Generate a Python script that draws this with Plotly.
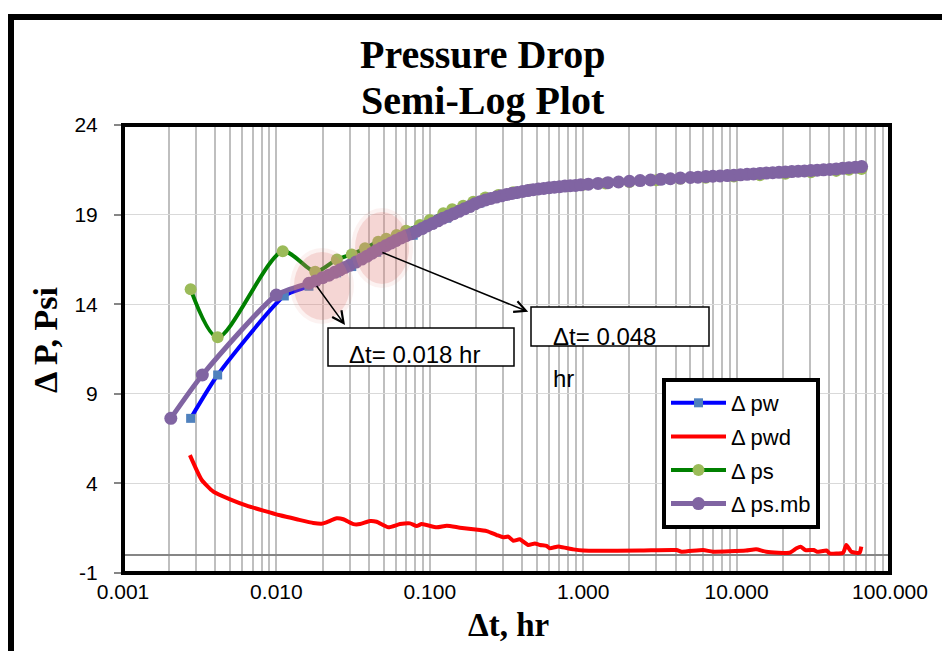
import math
import plotly.graph_objects as go

# ---- data -------------------------------------------------------------
# Δ pw : wellbore pressure drop
t_pw = [0.00276, 0.00414, 0.01126, 0.0163, 0.0247, 0.031, 0.0451, 0.078, 0.129,
        0.212, 0.35, 0.578, 1.0, 3.2, 10.0, 30.5, 65.3]
dp_pw = [7.63, 10.05, 14.46, 15.0, 15.75, 16.1, 16.9, 17.85, 18.8,
         19.65, 20.12, 20.42, 20.62, 20.92, 21.15, 21.4, 21.62]

# Δ pwd : pressure derivative
t_pwd = [0.00273, 0.00326, 0.00388, 0.00499, 0.0064, 0.00822, 0.01055, 0.01355,
         0.0174, 0.0197, 0.0212, 0.0247, 0.0273, 0.0318, 0.0351, 0.0407, 0.045,
         0.0537, 0.064, 0.0743, 0.0821, 0.0885, 0.111, 0.129, 0.157, 0.192,
         0.235, 0.273, 0.301, 0.325, 0.35, 0.386, 0.438, 0.484, 0.523, 0.577,
         0.606, 0.673, 0.705, 0.862, 1.0, 2.34, 4.06, 4.38, 6.05, 7.02, 11.5,
         13.4, 15.6, 22.2, 24.6, 26.1, 28.1, 31.8, 33.4, 38.8, 40.3, 49.4,
         51.9, 55.9, 63.4, 65.0]
dp_pwd = [5.58, 4.19, 3.54, 3.11, 2.76, 2.48, 2.22, 2.00,
          1.79, 1.75, 1.83, 2.05, 2.00, 1.73, 1.73, 1.90, 1.86,
          1.55, 1.73, 1.77, 1.62, 1.73, 1.55, 1.64, 1.53, 1.44,
          1.34, 1.12, 0.99, 1.03, 0.80, 0.88, 0.56, 0.65, 0.56, 0.51,
          0.38, 0.47, 0.47, 0.32, 0.25, 0.25, 0.28, 0.19, 0.28, 0.19, 0.25,
          0.32, 0.19, 0.13, 0.38, 0.47, 0.28, 0.28, 0.19, 0.25, 0.10, 0.13,
          0.56, 0.19, 0.13, 0.47]

# Δ ps : sandface pressure drop
t_ps = [0.00276, 0.00414, 0.011, 0.0179, 0.0248, 0.031, 0.0378, 0.0461, 0.052,
        0.0608, 0.07, 0.0863, 0.1, 0.1225, 0.14, 0.165, 0.192, 0.23, 0.28,
        0.35, 0.45, 0.6, 0.8, 1.0, 1.4, 2.0, 3.0, 4.3, 6.3, 9.6, 14.2, 20.8,
        30.5, 44.6, 54.0, 65.3]
dp_ps = [14.83, 12.15, 16.95, 15.81, 16.5, 16.78, 17.12, 17.49, 17.65,
         17.86, 18.1, 18.42, 18.7, 19.07, 19.3, 19.5, 19.72, 19.95, 20.1,
         20.25, 20.38, 20.5, 20.6, 20.66, 20.74, 20.82, 20.92, 21.0, 21.06,
         21.12, 21.2, 21.28, 21.36, 21.44, 21.5, 21.55]

# Δ ps.mb : sandface pressure drop, material-balance corrected
t_mb = [0.00205, 0.00329, 0.00999, 0.0163, 0.018, 0.020, 0.022, 0.024, 0.026,
        0.028, 0.030, 0.033, 0.036, 0.039, 0.042, 0.045, 0.048, 0.052, 0.056,
        0.060, 0.065, 0.070, 0.076, 0.082, 0.089, 0.096, 0.104, 0.113, 0.122,
        0.132, 0.143, 0.155, 0.168, 0.182, 0.197, 0.213, 0.231, 0.250, 0.271,
        0.293, 0.317, 0.343, 0.372, 0.403, 0.436, 0.472, 0.511, 0.553, 0.599,
        0.648, 0.702, 0.760, 0.823, 0.891, 0.965, 1.08, 1.25, 1.45, 1.70, 2.0,
        2.35, 2.75, 3.2, 3.7, 4.3, 5.0, 5.6, 6.3, 7.0, 7.8, 8.7, 9.6, 10.6,
        11.7, 12.9, 14.2, 15.6, 17.2, 18.9, 20.8, 22.9, 25.2, 27.7, 30.5,
        33.5, 36.9, 40.6, 44.6, 49.1, 54.0, 59.4, 65.3]
dp_mb = [7.63, 10.05, 14.51, 15.17, 15.30, 15.48, 15.62, 15.78, 15.92,
         16.05, 16.17, 16.35, 16.52, 16.68, 16.85, 17.00, 17.12, 17.28, 17.42,
         17.55, 17.70, 17.82, 17.93, 18.07, 18.22, 18.37, 18.50, 18.65, 18.80,
         18.92, 19.05, 19.18, 19.32, 19.45, 19.60, 19.72, 19.82, 19.90, 19.98,
         20.05, 20.12, 20.18, 20.24, 20.29, 20.34, 20.39, 20.43, 20.46, 20.50,
         20.53, 20.56, 20.59, 20.61, 20.63, 20.66, 20.70, 20.74, 20.78, 20.82, 20.86,
         20.90, 20.93, 20.97, 21.00, 21.04, 21.07, 21.09, 21.12, 21.14, 21.16, 21.18, 21.20, 21.22,
         21.25, 21.27, 21.30, 21.32, 21.34, 21.36, 21.38, 21.40, 21.42, 21.44, 21.46,
         21.48, 21.50, 21.52, 21.55, 21.58, 21.62, 21.64, 21.68]

# annotated times and callout labels
t_marks = [0.018, 0.048]
mark_labels = ["Δt= 0.018 hr", "Δt= 0.048"]

x_range = [0.001, 100.0]
y_range = [-1, 24]
y_ticks = [-1, 4, 9, 14, 19, 24]
y_tick_text = ["-1", "4", "9", "14", "19", "24"]

# ---- layout geometry (pixels) -------------------------------------------
W, H = 942, 651
L, R, T, B = 123, 52, 125, 78
PW, PH = W - L - R, H - T - B

LX0, LX1 = math.log10(x_range[0]), math.log10(x_range[1])


def px(xp):
    return (xp - L) / PW


def py(yp):
    return (H - B - yp) / PH


def t_to_paper(t):
    return (math.log10(t) - LX0) / (LX1 - LX0)


def v_to_paper(v):
    return (v - y_range[0]) / (y_range[1] - y_range[0])


SERIF = "Liberation Serif, Times New Roman, serif"
SANS = "Liberation Sans, Arial, sans-serif"

fig = go.Figure()

fig.add_trace(go.Scatter(
    x=t_pw, y=dp_pw, name="Δ pw", mode="lines+markers",
    line=dict(color="#0000ff", width=4, shape="spline", smoothing=0.6),
    marker=dict(symbol="square", size=9, color="#4f81bd"),
    legendgroup="a"))
fig.add_trace(go.Scatter(
    x=t_pwd, y=dp_pwd, name="Δ pwd", mode="lines",
    line=dict(color="#ff0000", width=4, shape="spline", smoothing=0.5),
    legendgroup="b"))
fig.add_trace(go.Scatter(
    x=t_ps, y=dp_ps, name="Δ ps", mode="lines+markers",
    line=dict(color="#008000", width=4, shape="spline", smoothing=0.8),
    marker=dict(symbol="circle", size=12, color="#9bbb59"),
    legendgroup="c"))
fig.add_trace(go.Scatter(
    x=t_mb, y=dp_mb, name="Δ ps.mb", mode="lines+markers",
    line=dict(color="#8064a2", width=5, shape="spline", smoothing=0.6),
    marker=dict(symbol="circle", size=13, color="#8064a2"),
    legendgroup="d"))

shapes = []
# soft highlighted regions around the annotated times
for tm, yc, rx, ry in [(0.0198, 15.02, 30, 36), (0.0488, 17.14, 29, 38)]:
    for grow, alpha in [(2, 0.10), (-2, 0.24)]:
        shapes.append(dict(
            type="circle", xref="paper", yref="paper", layer="above",
            xsizemode="pixel", ysizemode="pixel",
            xanchor=t_to_paper(tm), yanchor=v_to_paper(yc),
            x0=-(rx + grow), x1=rx + grow, y0=-(ry + grow), y1=ry + grow,
            fillcolor=f"rgba(225,125,120,{alpha})", line=dict(width=0)))

# callout boxes
for x0, x1, y0, y1 in [(328, 514, 328, 366), (531, 709, 307, 346)]:
    shapes.append(dict(type="rect", xref="paper", yref="paper", layer="above",
                       x0=px(x0), x1=px(x1), y0=py(y1), y1=py(y0),
                       fillcolor="white", line=dict(color="black", width=1.5)))

# plot-area frame
shapes.append(dict(type="rect", xref="paper", yref="paper", layer="above",
                   x0=0, x1=1, y0=0, y1=1, line=dict(color="black", width=4)))
# outer chart frame
shapes.append(dict(type="rect", xref="paper", yref="paper", layer="above",
                   x0=px(11), x1=px(W + 20), y0=py(H + 20), y1=py(17),
                   line=dict(color="black", width=6)))

annotations = []


def mb_at(t):
    # value on the Δ ps.mb curve at a listed time
    i = min(range(len(t_mb)), key=lambda k: abs(t_mb[k] - t))
    return dp_mb[i]


# arrows from the curve to the callout boxes
heads = [(0.028, 12.84), (0.438, 13.58)]
for tm, (th, vh) in zip(t_marks, heads):
    annotations.append(dict(
        x=math.log10(th), y=vh, xref="x", yref="y",
        ax=math.log10(tm), ay=mb_at(tm) - 0.2, axref="x", ayref="y",
        text="", showarrow=True, arrowhead=5, arrowsize=1.5,
        arrowwidth=1.5, arrowcolor="black", standoff=0, startstandoff=0))

# callout texts
annotations.append(dict(x=px(347), y=py(354), xref="paper", yref="paper",
                        xanchor="left", yanchor="middle", showarrow=False,
                        text=mark_labels[0], font=dict(family=SANS, size=24, color="black")))
annotations.append(dict(x=px(551), y=py(336), xref="paper", yref="paper",
                        xanchor="left", yanchor="middle", showarrow=False,
                        text=mark_labels[1], font=dict(family=SANS, size=24, color="black")))
annotations.append(dict(x=px(551), y=py(378), xref="paper", yref="paper",
                        xanchor="left", yanchor="middle", showarrow=False,
                        text="hr", font=dict(family=SANS, size=24, color="black")))

# chart title
annotations.append(dict(x=px(483), y=py(54), xref="paper", yref="paper",
                        xanchor="center", yanchor="middle", showarrow=False,
                        text="<b>Pressure Drop</b>",
                        font=dict(family=SERIF, size=40, color="black")))
annotations.append(dict(x=px(483), y=py(100), xref="paper", yref="paper",
                        xanchor="center", yanchor="middle", showarrow=False,
                        text="<b>Semi-Log Plot</b>",
                        font=dict(family=SERIF, size=40, color="black")))

# axis titles
annotations.append(dict(x=px(508), y=py(625), xref="paper", yref="paper",
                        xanchor="center", yanchor="middle", showarrow=False,
                        text="<b>Δt, hr</b>",
                        font=dict(family=SERIF, size=33, color="black")))
annotations.append(dict(x=px(45), y=py(340), xref="paper", yref="paper",
                        xanchor="center", yanchor="middle", showarrow=False,
                        textangle=-90, text="<b>Δ P, Psi</b>",
                        font=dict(family=SERIF, size=34, color="black")))

fig.update_layout(
    width=W, height=H,
    margin=dict(l=L, r=R, t=T, b=B, pad=0),
    paper_bgcolor="white", plot_bgcolor="white",
    shapes=shapes, annotations=annotations,
    showlegend=True,
    legend=dict(
        x=px(662), y=py(378), xanchor="left", yanchor="top",
        bgcolor="white", bordercolor="black", borderwidth=4,
        font=dict(family=SANS, size=22, color="black"),
        itemwidth=55, traceorder="grouped", tracegroupgap=2),
    xaxis=dict(
        type="log", range=[LX0, LX1],
        dtick=1, tickformat=".3f", ticks="",
        showgrid=True, gridcolor="#bfbfbf", gridwidth=1.5,
        minor=dict(dtick="D1", showgrid=True, gridcolor="#bfbfbf", gridwidth=1.5, ticks=""),
        zeroline=False, showline=False,
        tickfont=dict(family=SANS, size=21, color="black"),
        ticklabelstandoff=4),
    yaxis=dict(
        range=y_range, tickvals=y_ticks, ticktext=y_tick_text,
        showgrid=True, gridcolor="#d9d9d9", gridwidth=1,
        zeroline=True, zerolinecolor="#868686", zerolinewidth=2,
        ticks="outside", ticklen=7, tickcolor="#868686", tickwidth=1.5,
        showline=True, linecolor="#868686", linewidth=2,
        tickfont=dict(family=SANS, size=21, color="black"),
        ticklabelstandoff=12),
)

fig.write_html("out.html")
